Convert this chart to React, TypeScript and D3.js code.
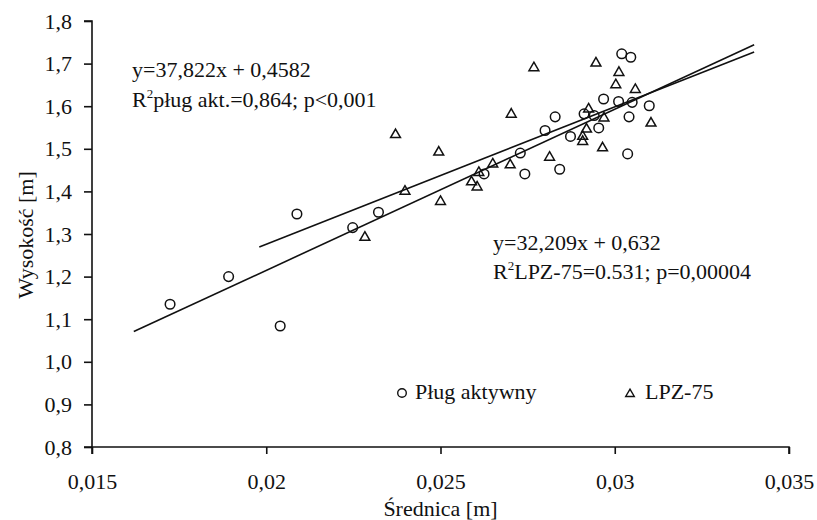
import React, { useRef, useEffect } from "react";
import * as d3 from "d3";

// Pług aktywny (circles): [średnica, wysokość]
const plugPoints: [number, number][] = [
  [0.01724, 1.135], [0.01892, 1.2], [0.0204, 1.084], [0.02088, 1.347],
  [0.02248, 1.315], [0.02322, 1.351], [0.02625, 1.441], [0.02729, 1.49],
  [0.02742, 1.441], [0.028, 1.543], [0.02829, 1.575], [0.02842, 1.452],
  [0.02873, 1.529], [0.02912, 1.582], [0.02941, 1.578], [0.02954, 1.549],
  [0.02968, 1.617], [0.03011, 1.611], [0.0302, 1.723], [0.03037, 1.488],
  [0.03041, 1.575], [0.03046, 1.715], [0.0305, 1.609], [0.03099, 1.601]
];

// LPZ-75 (triangles)
const lpzPoints: [number, number][] = [
  [0.02283, 1.292], [0.02398, 1.4], [0.02371, 1.533], [0.02495, 1.492],
  [0.025, 1.376], [0.02589, 1.422], [0.02605, 1.41], [0.0261, 1.444],
  [0.0265, 1.464], [0.027, 1.462], [0.02703, 1.581], [0.02768, 1.69],
  [0.02813, 1.48], [0.02908, 1.529], [0.02908, 1.517], [0.02919, 1.546],
  [0.02925, 1.593], [0.02946, 1.701], [0.02965, 1.502], [0.02969, 1.572],
  [0.03003, 1.65], [0.03012, 1.679], [0.03059, 1.639], [0.03104, 1.56]
];

// regression: slope, intercept, x range drawn
const plugFit = { a: 37.822, b: 0.4582, from: 0.0162, to: 0.034 };
const lpzFit = { a: 32.209, b: 0.632, from: 0.0198, to: 0.034 };

const xTicks = [0.015, 0.02, 0.025, 0.03, 0.035];
const xTickLabels = ["0,015", "0,02", "0,025", "0,03", "0,035"];
const yTicks = [0.8, 0.9, 1.0, 1.1, 1.2, 1.3, 1.4, 1.5, 1.6, 1.7, 1.8];
const yTickLabels = ["0,8", "0,9", "1,0", "1,1", "1,2", "1,3", "1,4", "1,5", "1,6", "1,7", "1,8"];

const FONT = "Liberation Serif, DejaVu Serif, Times New Roman, Times, serif";
const FS = 22;

const App = () => {
  const svgRef = useRef<SVGSVGElement>(null);
  const width = 817;
  const height = 520;

  useEffect(() => {
    const svg = d3.select(svgRef.current);
    svg.selectAll("*").remove();
    svg.attr("font-family", FONT);

    const margin = { top: 21, right: 28, bottom: 73, left: 92 };

    const x = d3.scaleLinear()
      .domain([0.015, 0.035])
      .range([margin.left, width - margin.right]);
    const y = d3.scaleLinear()
      .domain([0.8, 1.8])
      .range([height - margin.bottom, margin.top]);

    svg.append("rect").attr("width", width).attr("height", height).attr("fill", "#fff");

    // Axes
    const xAxis = svg.append("g")
      .attr("transform", `translate(0,${height - margin.bottom})`)
      .call(d3.axisBottom(x).tickValues(xTicks).tickSize(7).tickPadding(19)
        .tickFormat((d, i) => xTickLabels[i]));
    const yAxis = svg.append("g")
      .attr("transform", `translate(${margin.left},0)`)
      .call(d3.axisLeft(y).tickValues(yTicks).tickSize(8).tickPadding(12)
        .tickFormat((d, i) => yTickLabels[i]));

    [xAxis, yAxis].forEach(g => {
      g.attr("font-family", FONT).attr("font-size", FS);
      g.select(".domain").attr("stroke", "#111").attr("stroke-width", 1.6);
      g.selectAll(".tick line").attr("stroke", "#111").attr("stroke-width", 1.6);
      g.selectAll(".tick text").attr("fill", "#111");
    });
    xAxis.select(".domain").attr("d", `M${x(0.015)},7V0H${x(0.035)}V7`);
    yAxis.select(".domain").attr("d", `M-8,${y(0.8)}H0V${y(1.8)}H-8`);

    // Axis titles
    svg.append("text")
      .attr("x", x(0.025))
      .attr("y", 516)
      .attr("text-anchor", "middle")
      .attr("font-size", FS)
      .attr("fill", "#111")
      .text("Średnica [m]");

    svg.append("text")
      .attr("transform", `translate(33,${y(1.3) + 1}) rotate(-90)`)
      .attr("text-anchor", "middle")
      .attr("font-size", FS)
      .attr("fill", "#111")
      .text("Wysokość [m]");

    // Regression lines
    [plugFit, lpzFit].forEach(f => {
      svg.append("line")
        .attr("x1", x(f.from))
        .attr("y1", y(f.a * f.from + f.b))
        .attr("x2", x(f.to))
        .attr("y2", y(f.a * f.to + f.b))
        .attr("stroke", "#111")
        .attr("stroke-width", 1.6);
    });

    // Points
    svg.append("g")
      .selectAll("circle")
      .data(plugPoints)
      .join("circle")
      .attr("cx", d => x(d[0]))
      .attr("cy", d => y(d[1]))
      .attr("r", 4.8)
      .attr("fill", "none")
      .attr("stroke", "#111")
      .attr("stroke-width", 1.5);

    const tri = d3.symbol().type(d3.symbolTriangle).size(42);
    svg.append("g")
      .selectAll("path")
      .data(lpzPoints)
      .join("path")
      .attr("transform", d => `translate(${x(d[0])},${y(d[1])})`)
      .attr("d", tri())
      .attr("fill", "none")
      .attr("stroke", "#111")
      .attr("stroke-width", 1.5);

    // Annotations (R² written with a raised small "2")
    const note = (tx: number, ty: number, head: string, sup: string, rest: string) => {
      const t = svg.append("text")
        .attr("x", tx)
        .attr("y", ty)
        .attr("font-size", FS)
        .attr("fill", "#111");
      t.append("tspan").text(head);
      if (sup) {
        t.append("tspan").attr("dy", -9).attr("font-size", 13).text(sup);
        t.append("tspan").attr("dy", 9).text(rest);
      }
    };
    note(132, 77, "y=37,822x + 0,4582", "", "");
    note(132, 107, "R", "2", "pług akt.=0,864; p<0,001");
    note(493, 250, "y=32,209x + 0,632", "", "");
    note(493, 279, "R", "2", "LPZ-75=0.531; p=0,00004");

    // Legend
    const legend = svg.append("g").attr("font-size", FS);
    legend.append("circle")
      .attr("cx", 402).attr("cy", 393).attr("r", 4.3)
      .attr("fill", "none").attr("stroke", "#111").attr("stroke-width", 1.4);
    legend.append("text").attr("x", 415).attr("y", 399).attr("fill", "#111").text("Pług aktywny");
    legend.append("path")
      .attr("transform", "translate(630,394)")
      .attr("d", d3.symbol().type(d3.symbolTriangle).size(32)())
      .attr("fill", "none").attr("stroke", "#111").attr("stroke-width", 1.4);
    legend.append("text").attr("x", 645).attr("y", 399).attr("fill", "#111").text("LPZ-75");
  }, []);

  return (
    <svg
      ref={svgRef}
      width={width}
      height={height}
      viewBox={`0 0 ${width} ${height}`}
      style={{ position: "absolute", left: 0, top: 0, display: "block" }}
    />
  );
};

export default App;
